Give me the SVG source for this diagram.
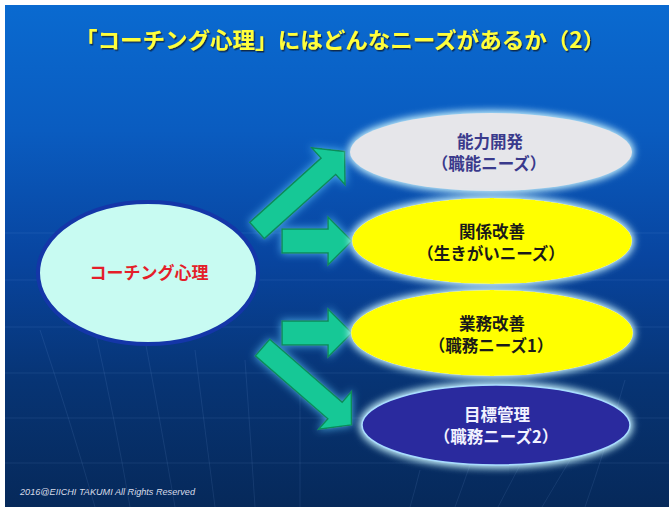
<svg xmlns="http://www.w3.org/2000/svg" width="669" height="507" viewBox="0 0 669 507">
  <defs>
    <linearGradient id="bg" x1="0" y1="0" x2="0" y2="1">
      <stop offset="0" stop-color="#0a6ad0"/>
      <stop offset="0.25" stop-color="#0a5cc0"/>
      <stop offset="0.5" stop-color="#0845a0"/>
      <stop offset="0.75" stop-color="#073474"/>
      <stop offset="1" stop-color="#06295a"/>
    </linearGradient>
    <filter id="glow" x="-20%" y="-40%" width="140%" height="180%">
      <feGaussianBlur in="SourceAlpha" stdDeviation="5" result="b"/>
      <feFlood flood-color="#c8f4ff"/>
      <feComposite in2="b" operator="in" result="g"/>
      <feMerge><feMergeNode in="g"/><feMergeNode in="g"/><feMergeNode in="SourceGraphic"/></feMerge>
    </filter>
    <filter id="aglow" x="-30%" y="-30%" width="160%" height="160%">
      <feGaussianBlur in="SourceAlpha" stdDeviation="4" result="b"/>
      <feFlood flood-color="#5ec8ff" flood-opacity="0.8"/>
      <feComposite in2="b" operator="in" result="g"/>
      <feMerge><feMergeNode in="g"/><feMergeNode in="SourceGraphic"/></feMerge>
    </filter>
    <filter id="tshadow" x="-5%" y="-30%" width="110%" height="160%">
      <feDropShadow dx="1.2" dy="1.5" stdDeviation="0.6" flood-color="#102040" flood-opacity="0.9"/>
    </filter>
    <path id="diag" d="M0,-11 L96,-11 L96,-25 L118,0 L96,25 L96,11 L0,11 Z"/>
    <path id="horiz" d="M0,-12 L46,-12 L46,-24 L70,0 L46,24 L46,12 L0,12 Z"/>
  </defs>
  <style>
    .jp { font-family: "Noto Sans CJK JP", "Noto Sans", sans-serif; font-weight: bold; text-anchor: middle; }
    .arrow { fill: #14c896; stroke: #0a8a5a; stroke-width: 1.5; }
    .grid { stroke: #9cc8ff; stroke-opacity: 0.1; stroke-width: 1; fill: none; }
  </style>

  <rect x="0" y="0" width="669" height="507" fill="#ffffff"/>
  <rect x="5" y="5" width="664" height="502" fill="url(#bg)"/>

  <g id="background-grid">
    <line class="grid" x1="5" y1="233" x2="669" y2="233"/>
    <line class="grid" x1="5" y1="280" x2="669" y2="280"/>
    <line class="grid" x1="5" y1="327" x2="669" y2="327"/>
    <line class="grid" x1="5" y1="373" x2="669" y2="373"/>
    <line class="grid" x1="5" y1="418" x2="669" y2="418"/>
    <line class="grid" x1="5" y1="463" x2="669" y2="463"/>
    <path class="grid" d="M40,330 Q70,420 95,507"/>
    <path class="grid" d="M95,330 Q115,420 130,507"/>
    <path class="grid" d="M145,340 Q160,420 175,507"/>
    <path class="grid" d="M195,350 Q205,430 215,507"/>
    <path class="grid" d="M245,360 Q250,430 255,507"/>
    <path class="grid" d="M300,380 Q300,440 300,507"/>
    <path class="grid" d="M420,470 Q415,490 410,507"/>
    <path class="grid" d="M470,465 Q462,488 455,507"/>
    <path class="grid" d="M520,465 Q508,488 498,507"/>
    <path class="grid" d="M570,460 Q555,485 542,507"/>
    <path class="grid" d="M625,380 Q605,450 585,507"/>
  </g>

  <g id="title">
    <text class="jp" x="340" y="48" font-size="22" fill="#ffff3a" font-weight="normal" filter="url(#tshadow)" textLength="530" lengthAdjust="spacingAndGlyphs">「コーチング心理」にはどんなニーズがあるか（2）</text>
  </g>

  <g id="connectors">
    <g filter="url(#aglow)">
      <use href="#diag" class="arrow" transform="translate(257,230.5) rotate(-42)"/>
      <use href="#horiz" class="arrow" transform="translate(282,241)"/>
      <use href="#horiz" class="arrow" transform="translate(282,333)"/>
      <use href="#diag" class="arrow" transform="translate(262.5,347.5) rotate(41)"/>
    </g>
  </g>

  <g id="node-coaching">
    <ellipse cx="148" cy="273" rx="110" ry="71" fill="#c8fbf2" stroke="#1436a8" stroke-width="4"/>
    <text class="jp" x="149" y="279" font-size="17" fill="#e41e2a">コーチング心理</text>
  </g>

  <g id="node-noryoku">
    <ellipse cx="491" cy="152" rx="141" ry="39" fill="#e6e6ea" filter="url(#glow)"/>
    <text class="jp" x="490" y="148" font-size="16.5" fill="#3a3a8c">能力開発</text>
    <text class="jp" x="489" y="170" font-size="16.5" fill="#3a3a8c">（職能ニーズ）</text>
  </g>

  <g id="node-kankei">
    <ellipse cx="492" cy="241" rx="140" ry="43" fill="#ffff00" filter="url(#glow)"/>
    <text class="jp" x="492" y="238" font-size="16.5" fill="#1a1a1a">関係改善</text>
    <text class="jp" x="491" y="260" font-size="16.5" fill="#1a1a1a">（生きがいニーズ）</text>
  </g>

  <g id="node-gyomu">
    <ellipse cx="492" cy="333" rx="141" ry="43" fill="#ffff00" filter="url(#glow)"/>
    <text class="jp" x="492" y="330" font-size="16.5" fill="#1a1a1a">業務改善</text>
    <text class="jp" x="491" y="352" font-size="16.5" fill="#1a1a1a">（職務ニーズ1）</text>
  </g>

  <g id="node-mokuhyo">
    <ellipse cx="496" cy="425" rx="134" ry="40" fill="#2a2a9e" stroke="#a8dcff" stroke-width="1.5" filter="url(#glow)"/>
    <text class="jp" x="497" y="421" font-size="16.5" fill="#f2f2ff">目標管理</text>
    <text class="jp" x="496" y="443" font-size="16.5" fill="#f2f2ff">（職務ニーズ2）</text>
  </g>

  <g id="copyright">
    <text x="20" y="495" font-family="'Liberation Sans', Arial, sans-serif" font-style="italic" font-size="8.5" fill="#d8dce8" textLength="175" lengthAdjust="spacingAndGlyphs">2016@EIICHI  TAKUMI  All Rights Reserved</text>
  </g>
</svg>
